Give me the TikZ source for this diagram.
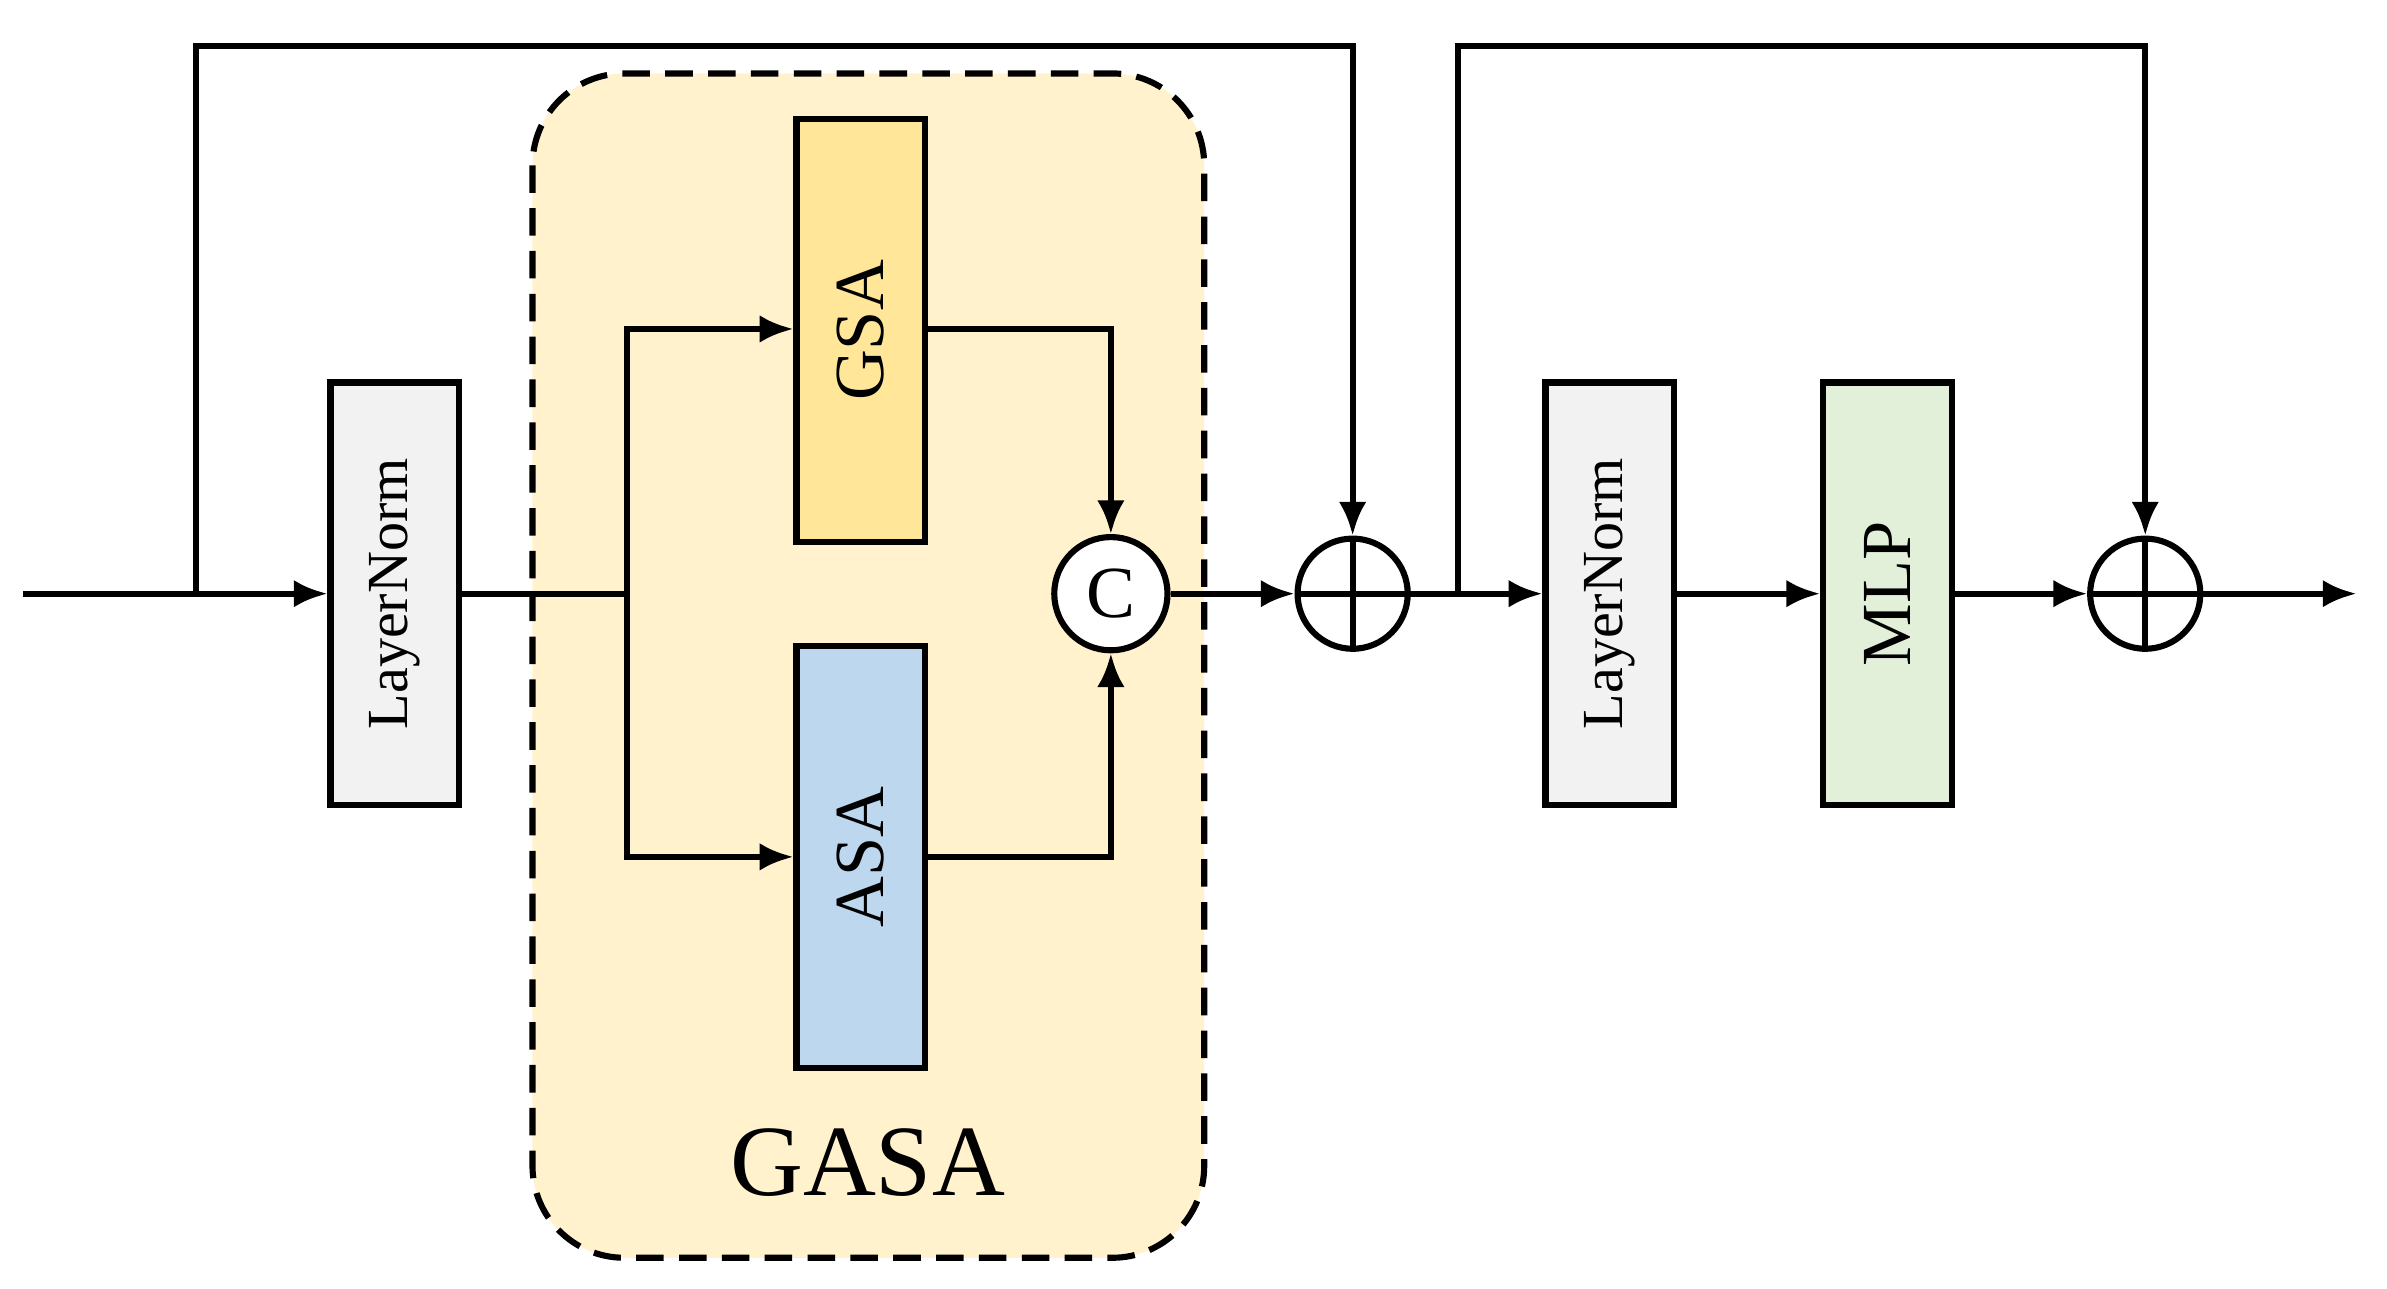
\documentclass[tikz,border=0pt]{standalone}
\usepackage{fontspec}
\setmainfont{Liberation Serif}
\usetikzlibrary{arrows.meta}
\definecolor{gasabg}{HTML}{FFF2CC}
\definecolor{gsac}{HTML}{FFE699}
\definecolor{asac}{HTML}{BDD7EE}
\definecolor{mlpc}{HTML}{E2F0D9}
\definecolor{lnc}{HTML}{F2F2F2}
\begin{document}
\begin{tikzpicture}[x=1pt,y=-1pt,
  line width=4pt,
  arr/.style={-{Latex[length=22pt,width=18pt]}},
  blk/.style={draw,line width=4pt,minimum width=84pt,minimum height=276pt,inner sep=0pt},
  lbl/.style={rotate=90,font=\fontsize{38}{40}\selectfont},
  circ/.style={draw,circle,line width=4pt,minimum size=72pt,inner sep=0pt}]
\useasboundingbox (0,0) rectangle (1560,842);
\draw[dashed,dash pattern=on 18pt off 10pt,fill=gasabg,rounded corners=60pt,line width=4pt] (348,48) rectangle (787,822);
\node[font=\fontsize{66}{70}\selectfont] (gasat) at (567,760) {GASA};
\node[blk,fill=lnc] (ln1) at (258,388) {};
\node[lbl] at (ln1.center) {LayerNorm};
\node[blk,fill=gsac] (gsa) at (562.5,216) {};
\node[lbl,font=\fontsize{46}{48}\selectfont] at (gsa.center) {GSA};
\node[blk,fill=asac] (asa) at (562.5,560) {};
\node[lbl,font=\fontsize{46}{48}\selectfont] at (asa.center) {ASA};
\node[circ,minimum size=74pt,font=\fontsize{48}{50}\selectfont,fill=white] (cat) at (726,388) {C};
\node[circ] (p1) at (884,388) {};
\draw (p1.north) -- (p1.south) (p1.west) -- (p1.east);
\node[blk,fill=lnc] (ln2) at (1052,388) {};
\node[lbl] at (ln2.center) {LayerNorm};
\node[blk,fill=mlpc] (mlp) at (1233.5,388) {};
\node[lbl,font=\fontsize{46}{48}\selectfont] at (mlp.center) {MLP};
\node[circ] (p2) at (1402,388) {};
\draw (p2.north) -- (p2.south) (p2.west) -- (p2.east);
\coordinate (in) at (15,388);
\coordinate (s1) at (128,388);
\coordinate (br) at (410,388);
\coordinate (s2) at (953,388);
\coordinate (out) at (1540,388);
\draw[arr] (in) -- (ln1.west);
\draw[arr] (s1) -- (128,30) -| (p1.north);
\draw (ln1.east) -- (br);
\draw[arr] (br) |- (gsa.west |- 0,215);
\draw[arr] (br) |- (asa.west |- 0,560);
\draw[arr] (gsa.east |- 0,215) -| (cat.north);
\draw[arr] (asa.east |- 0,560) -| (cat.south);
\draw[arr] (cat.east) -- (p1.west);
\draw[arr] (p1.east) -- (ln2.west);
\draw[arr] (s2) -- (953,30) -| (p2.north);
\draw[arr] (ln2.east) -- (mlp.west);
\draw[arr] (mlp.east) -- (p2.west);
\draw[arr] (p2.east) -- (out);
\end{tikzpicture}
\end{document}
